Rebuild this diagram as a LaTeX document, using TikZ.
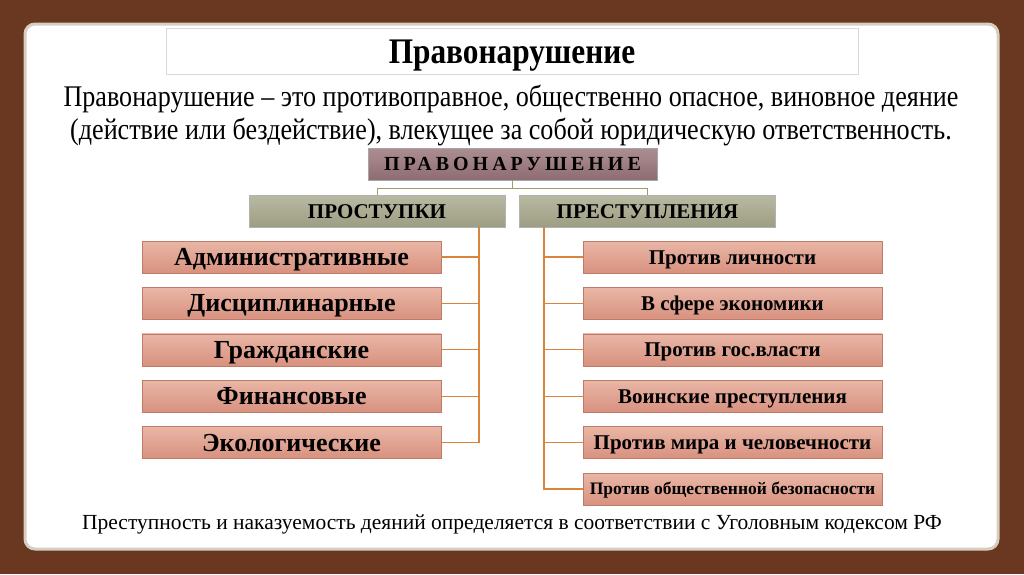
\documentclass[tikz,border=0pt]{standalone}
\usepackage{fontspec}
\setmainfont{Liberation Serif}
\newfontfamily\narrowfont[FakeStretch=0.87]{Liberation Serif}
\newfontfamily\spacedfont[LetterSpace=20]{Liberation Serif}
\usetikzlibrary{positioning,calc}
\definecolor{bgbrown}{HTML}{6A3820}
\definecolor{paneledge}{HTML}{D8CEC0}
\definecolor{salmontop}{HTML}{E9B6A6}
\definecolor{salmonbot}{HTML}{D8917F}
\definecolor{salmonline}{HTML}{C07A68}
\definecolor{olivetop}{HTML}{B9BAA2}
\definecolor{olivebot}{HTML}{9C9D82}
\definecolor{mauvetop}{HTML}{AC8E92}
\definecolor{mauvebot}{HTML}{8E6D72}
\definecolor{linkolive}{HTML}{9C9C6C}
\definecolor{linkorange}{HTML}{D9843A}
\tikzset{
  titlebox/.style={draw=black!15, fill=white, minimum width=692pt, minimum height=46pt, inner sep=0pt, text height=24pt, text depth=0pt},
  rootbox/.style={draw=black!35, top color=mauvetop, bottom color=mauvebot, minimum width=289pt, minimum height=32pt, inner sep=0pt, text height=13.5pt, text depth=0pt},
  kindbox/.style={draw=black!30, top color=olivetop, bottom color=olivebot, minimum width=256pt, minimum height=32pt, inner sep=0pt, text height=14pt, text depth=0pt, font=\fontsize{21}{21}\bfseries},
  leafbox/.style={draw=salmonline, top color=salmontop, bottom color=salmonbot, minimum width=299pt, minimum height=32pt, inner sep=0pt, text depth=0pt},
  bigleaf/.style={leafbox, text height=17pt, font=\fontsize{26}{26}\bfseries},
  midleaf/.style={leafbox, text height=14pt, font=\fontsize{21}{21}\bfseries},
  smallleaf/.style={leafbox, text height=11.5pt, font=\fontsize{17.5}{17.5}\bfseries},
  oliveline/.style={draw=linkolive, line width=1pt},
  orangeline/.style={draw=linkorange, line width=1.3pt}
}
\begin{document}
\begin{tikzpicture}[x=1pt,y=-1pt]
      \useasboundingbox (0,0) rectangle (1024,574);
      \fill[bgbrown] (0,0) rectangle (1024,574);
      \filldraw[fill=white, draw=paneledge, line width=3pt, rounded corners=10pt] (25,24) rectangle (998,549);

      \node (title) [titlebox] at (512,51) {\narrowfont\fontsize{36}{36}\bfseries Правонарушение};
      \node (def) [align=center, font=\narrowfont\fontsize{30}{33}\selectfont] at (511,115)
        {Правонарушение – это противоправное, общественно опасное, виновное деяние\\
         (действие или бездействие), влекущее за собой юридическую ответственность.};

      \node (top) [rootbox] at (512.5,164) {\spacedfont\fontsize{20}{20}\bfseries ПРАВОНАРУШЕНИЕ};
      \node (prost) [kindbox] at (377,211) {ПРОСТУПКИ};
      \node (prest) [kindbox] at (647.5,211) {ПРЕСТУПЛЕНИЯ};

      \node (a1) [bigleaf] at (291.5,257) {Административные};
      \node (a2) [bigleaf, below = 14pt of a1] {Дисциплинарные};
      \node (a3) [bigleaf, below = 14pt of a2] {Гражданские};
      \node (a4) [bigleaf, below = 14pt of a3] {Финансовые};
      \node (a5) [bigleaf, below = 14pt of a4] {Экологические};

      \node (b1) [midleaf] at (732.5,257) {Против личности};
      \node (b2) [midleaf, below = 14pt of b1] {В сфере экономики};
      \node (b3) [midleaf, below = 14pt of b2] {Против гос.власти};
      \node (b4) [midleaf, below = 14pt of b3] {Воинские преступления};
      \node (b5) [midleaf, below = 14pt of b4] {Против мира и человечности};
      \node (b6) [smallleaf, below = 14pt of b5] {Против общественной безопасности};

      \node (law) [font=\fontsize{21.5}{21.5}\selectfont] at (512,524)
        {Преступность и наказуемость деяний определяется в соответствии с Уголовным кодексом РФ};

      \coordinate (mid) at ($(top.south)+(0,8)$);
      \coordinate (lp) at (479,227);
      \coordinate (rp) at (544,227);

      \draw[oliveline] (top.south) -- (mid) -| (prost.north);
      \draw[oliveline] (mid) -| (prest.north);
      \draw[orangeline] (lp) |- (a5.east);
      \draw[orangeline] (rp) |- (b6.west);
      \foreach \i in {1,...,4}
        \draw[orangeline] (a\i.east) -- (a\i.east -| lp);
      \foreach \i in {1,...,5}
        \draw[orangeline] (b\i.west) -- (b\i.west -| rp);
    \end{tikzpicture}
\end{document}
